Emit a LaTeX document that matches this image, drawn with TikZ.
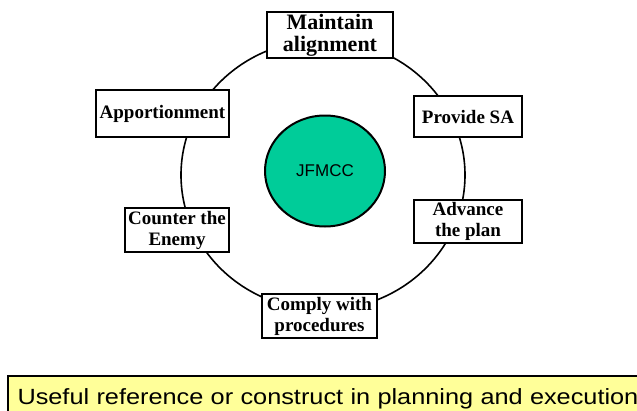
\documentclass[tikz,border=0pt]{standalone}
\usepackage{fontspec}
\setmainfont{Liberation Serif}
\newfontfamily\arialfont{Liberation Sans}
\newfontfamily\notefont[FakeStretch=1.15]{Liberation Sans}
\usetikzlibrary{shapes.geometric}
\definecolor{hubgreen}{HTML}{00CC99}
\definecolor{noteyellow}{HTML}{FFFF99}
\tikzset{
  ring/.style={draw,ellipse,line width=1.6pt,inner sep=0pt,
    minimum width=284pt,minimum height=270pt},
  hub/.style={draw,ellipse,fill=hubgreen,line width=2pt,inner sep=0pt,
    minimum width=120pt,minimum height=111pt,
    font=\arialfont\fontsize{17}{20}\selectfont},
  taskbox/.style={draw,fill=white,line width=2pt,inner sep=0pt,align=center,
    font=\fontsize{19}{21}\selectfont\bfseries},
  twoline/.style={execute at begin node={\rule{0pt}{19pt}}},
  bigtext/.style={font=\fontsize{22}{22}\selectfont\bfseries},
  notebox/.style={draw,fill=noteyellow,line width=2pt,anchor=north west,
    inner xsep=9.5pt,inner ysep=0pt,text width=640pt,align=left,
    minimum height=46pt,font=\notefont\fontsize{22}{26}\selectfont}
}
\begin{document}
\begin{tikzpicture}[x=1pt,y=-1pt]
  \useasboundingbox (0,0) rectangle (637,410);
  \clip (0,0) rectangle (637,410);
  % the cycle, drawn first so the boxes sit on it
  \node[ring] (cycle) at (323,175) {};
  \node[hub] (jfmcc) at (325,171) {JFMCC};
  % boxes round the cycle
  \node[taskbox,twoline,bigtext,minimum width=126pt,minimum height=46pt] (maintain) at (330,35) {Maintain\\alignment};
  \node[taskbox,minimum width=108pt,minimum height=41pt] (provide) at (468,116.5) {Provide SA};
  \node[taskbox,twoline,minimum width=108pt,minimum height=43pt] (advance) at (468,221.5) {Advance\\the plan};
  \node[taskbox,twoline,minimum width=115pt,minimum height=44pt] (comply) at (319.5,316) {Comply with\\procedures};
  \node[taskbox,twoline,minimum width=104pt,minimum height=44pt] (counter) at (177,230) {Counter the\\Enemy};
  \node[taskbox,minimum width=133pt,minimum height=47pt] (apportion) at (162.5,113.5) {Apportionment};
  % note at the foot
  \node[notebox] (note) at (7,375) {Useful reference or construct in planning and execution};
\end{tikzpicture}
\end{document}
